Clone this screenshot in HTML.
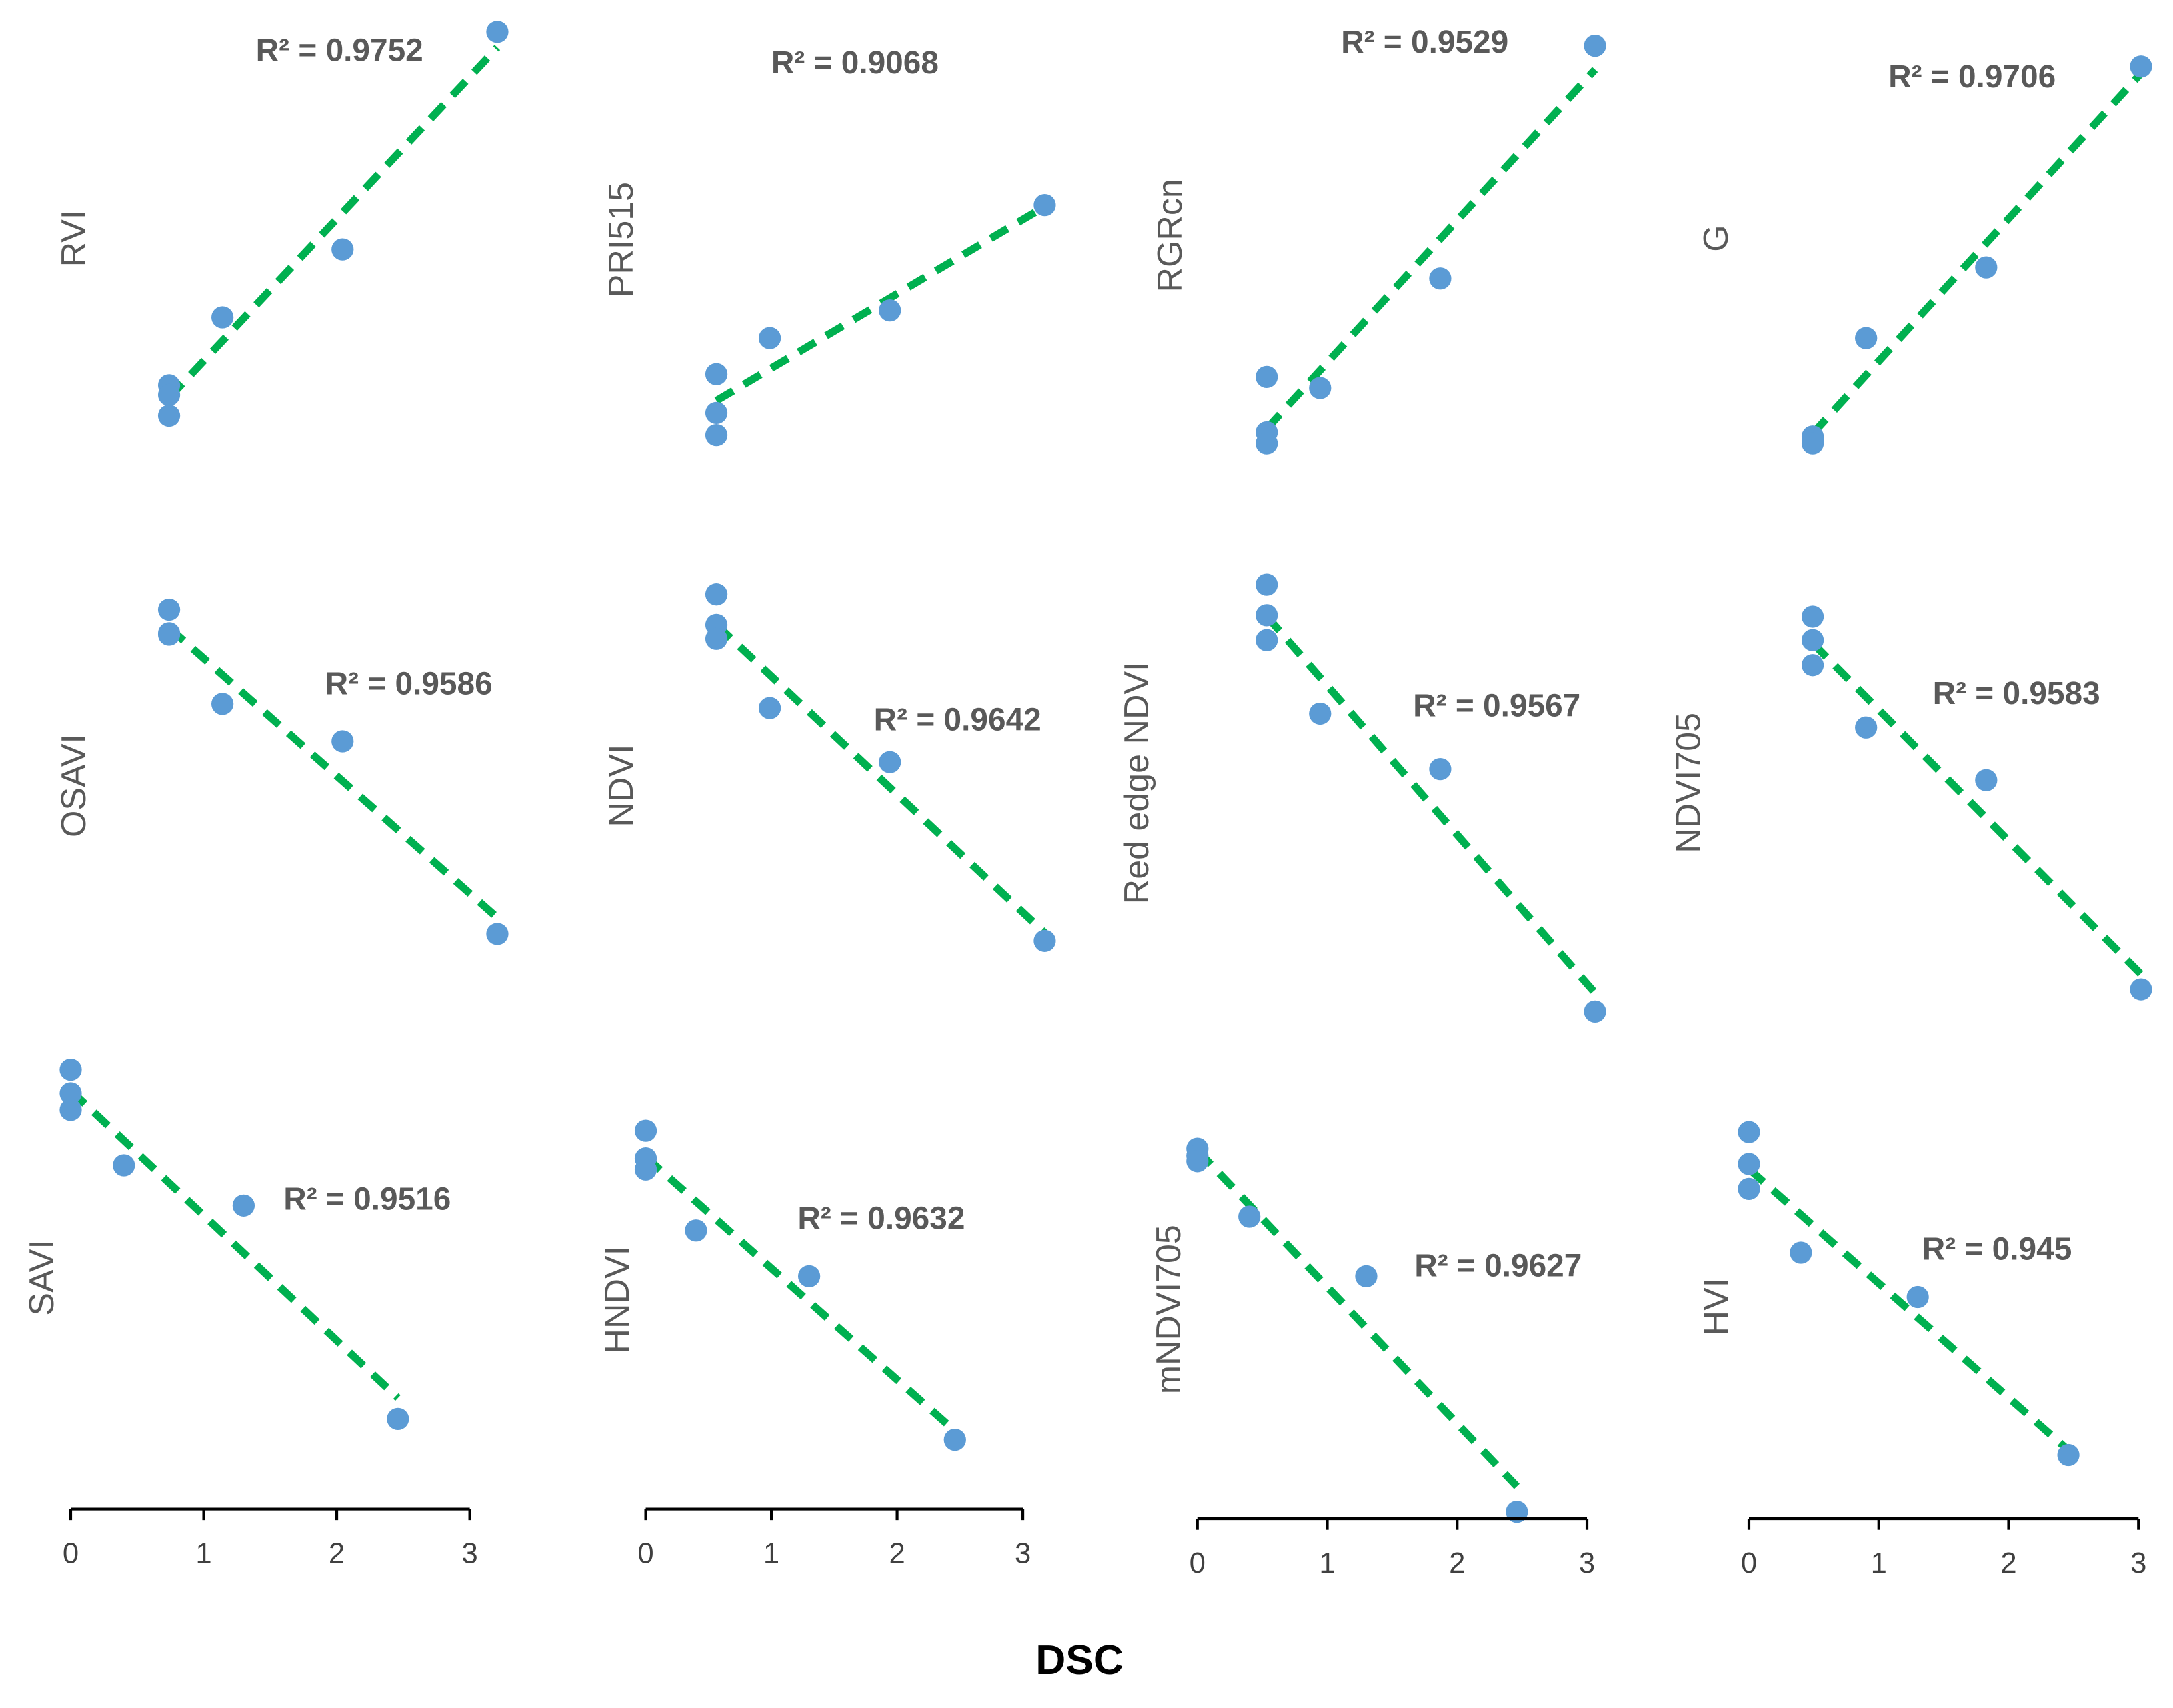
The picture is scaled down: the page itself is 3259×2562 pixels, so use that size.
<!DOCTYPE html>
<html><head><meta charset="utf-8"><style>
html,body{margin:0;padding:0;background:#fff;}
svg{display:block;}
text{font-family:"Liberation Sans",sans-serif;}
</style></head><body>
<svg id="chart" width="3259" height="2562" viewBox="0 0 1568 1232.6" preserveAspectRatio="none" xmlns="http://www.w3.org/2000/svg">
<text x="779" y="1208" font-size="30" font-weight="bold" text-anchor="middle" fill="#000">DSC</text>
</svg>
<script>
// DSC (x) values shared by all panels
const dscValues = [0, 0, 0, 0.4, 1.3, 2.46];
const panelNames = ["RVI","PRI515","RGRcn","G","OSAVI","NDVI","Red edge NDVI","NDVI705","SAVI","HNDVI","mNDVI705","HVI"];
const r2Labels = ["0.9752","0.9068","0.9529","0.9706","0.9586","0.9642","0.9567","0.9583","0.9516","0.9632","0.9627","0.945"];
// index values (relative units) for each panel
const rviVals = [62,55,40,111,160,317];
const pri515Vals = [70,42,26,96,116,192];
const rgrcnVals = [68,28,20,60,139,307];
const gVals = [25,22,20,96,147,292];
const osaviVals = [310,293,292,242,215,76];
const ndviVals = [321,299,289,239,200,71];
const redEdgeNdviVals = [328,306,288,235,195,20];
const ndvi705Vals = [305,288,270,225,187,36];
const saviVals = [338,321,309,269,240,86];
const hndviVals = [294,274,266,222,189,71];
const mndvi705Vals = [281,276,272,232,189,19];
const hviVals = [293,270,252,206,174,60];
const xTickLabels = ["0","1","2","3"];

const seriesVals=[rviVals,pri515Vals,rgrcnVals,gVals,osaviVals,ndviVals,redEdgeNdviVals,ndvi705Vals,saviVals,hndviVals,mndvi705Vals,hviVals];
const layout=[
 {x0:122,sx:96.3,bot:340,lx:55,ly:172,rx:245,ry:36},
 {x0:517,sx:96.3,bot:340,lx:450,ly:173,rx:617,ry:45},
 {x0:914,sx:96.3,bot:340,lx:846,ly:170,rx:1028,ry:30},
 {x0:1308,sx:96.3,bot:340,lx:1240,ly:172,rx:1423,ry:55},
 {x0:122,sx:96.3,bot:750,lx:55,ly:567,rx:295,ry:493},
 {x0:517,sx:96.3,bot:750,lx:450,ly:567,rx:691,ry:519},
 {x0:914,sx:96.3,bot:750,lx:822,ly:565,rx:1080,ry:509},
 {x0:1308,sx:96.3,bot:750,lx:1220,ly:565,rx:1455,ry:500},
 {x0:51,sx:96,bot:1110,lx:32,ly:922,rx:265,ry:865,axisY:1089},
 {x0:466,sx:90.7,bot:1110,lx:447,ly:938,rx:636,ry:879,axisY:1089},
 {x0:864,sx:93.7,bot:1110,lx:845,ly:945,rx:1081,ry:913,axisY:1096},
 {x0:1262,sx:93.7,bot:1110,lx:1240,ly:943,rx:1441,ry:901,axisY:1096}
];
const NS="http://www.w3.org/2000/svg";
const svg=document.getElementById('chart');
function mk(tag,attrs,parent){const e=document.createElementNS(NS,tag);for(const k in attrs)e.setAttribute(k,attrs[k]);(parent||svg).appendChild(e);return e;}
panelNames.forEach((name,i)=>{
  const L=layout[i], vals=seriesVals[i];
  const xS=v=>L.x0+v*L.sx, yS=v=>L.bot-v;
  const g=mk('g',{});
  
  
  const n=dscValues.length;let mx=0,my=0;
  for(let k=0;k<n;k++){mx+=dscValues[k];my+=vals[k];}
  mx/=n;my/=n;let sxy=0,sxx=0;
  for(let k=0;k<n;k++){sxy+=(dscValues[k]-mx)*(vals[k]-my);sxx+=(dscValues[k]-mx)**2;}
  const b=sxy/sxx,a=my-b*mx;
  const xmin=Math.min(...dscValues),xmax=Math.max(...dscValues);
  const line=mk('line',{x1:xS(xmin),y1:yS(a+b*xmin),x2:xS(xmax),y2:yS(a+b*xmax),stroke:'#00B050','stroke-width':5.5,'stroke-dasharray':'14 9'},g);
  
  
  dscValues.forEach((d,k)=>{
    const c=mk('circle',{cx:xS(d),cy:yS(vals[k]),r:8,fill:'#5B9BD5'},g);
    
    
  });
  const yl=mk('text',{x:L.lx,y:L.ly,'font-size':25,fill:'#595959','text-anchor':'middle',transform:`rotate(-90 ${L.lx} ${L.ly})`,'dominant-baseline':'middle'},g);
  yl.textContent=name;
  
  
  const rt=mk('text',{x:L.rx,y:L.ry+8,'font-size':23,'font-weight':'bold',fill:'#595959','text-anchor':'middle'},g);
  rt.textContent='R² = '+r2Labels[i];
  
  
  if(L.axisY){
    const ax=mk('g',{},g);
    
    
    mk('line',{x1:xS(0),y1:L.axisY,x2:xS(3),y2:L.axisY,stroke:'#000','stroke-width':2},ax);
    xTickLabels.forEach(t=>{
      const v=+t;
      mk('line',{x1:xS(v),y1:L.axisY,x2:xS(v),y2:L.axisY+8,stroke:'#000','stroke-width':2},ax);
      const tl=mk('text',{x:xS(v),y:L.axisY+39,'font-size':21,fill:'#404040','text-anchor':'middle'},ax);
      tl.textContent=t;
      
      
    });
  }
});
</script>
</body></html>
